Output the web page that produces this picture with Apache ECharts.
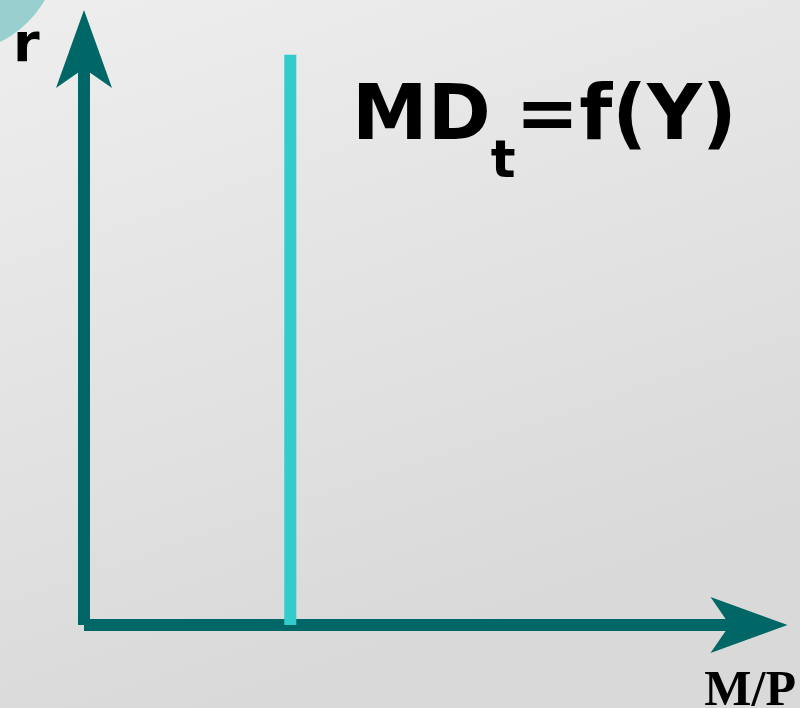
<!DOCTYPE html>
<html>
<head>
<meta charset="utf-8">
<script src="https://cdn.jsdelivr.net/npm/echarts@6/dist/echarts.min.js"></script>
<style>
  html, body { margin: 0; padding: 0; }
  #chart { width: 800px; height: 708px; }
</style>
</head>
<body>
<div id="chart"></div>
<script>
// axis ranges (no ticks shown, just the frame)
var xRange = [0, 100];
var yRange = [0, 100];
// vertical money demand line: MD_t = f(Y), independent of r
var mdLine = [[31, 0], [31, 99]];
var yName = 'r';
var xName = 'M/P';

var teal = '#006666';
var cyan = '#33CCCC';

var chart = echarts.init(document.getElementById('chart'));
chart.setOption({
    animation: false,
    backgroundColor: {
        type: 'linear', x: 0, y: 0, x2: 0.3, y2: 1,
        colorStops: [
            {offset: 0, color: '#EEEEEE'},
            {offset: 1, color: '#D9D9D9'}
        ]
    },
    grid: {
        left: 84,
        right: 50.5,
        top: 49,
        bottom: 83
    },
    xAxis: {
        type: 'value',
        min: xRange[0],
        max: xRange[1],
        axisLine: {
            show: true,
            symbol: ['none', 'arrow'],
            symbolSize: [42, 77],
            symbolOffset: [0, 38],
            lineStyle: {color: teal, width: 12, cap: 'butt'}
        },
        axisTick: {show: false},
        axisLabel: {show: false},
        splitLine: {show: false}
    },
    yAxis: {
        type: 'value',
        min: yRange[0],
        max: yRange[1],
        axisLine: {
            show: true,
            symbol: ['none', 'arrow'],
            symbolSize: [42, 78],
            symbolOffset: [0, 39],
            lineStyle: {color: teal, width: 12, cap: 'butt'}
        },
        axisTick: {show: false},
        axisLabel: {show: false},
        splitLine: {show: false}
    },
    series: [
        {
            name: 'MDt',
            type: 'line',
            data: mdLine,
            symbol: 'none',
            lineStyle: {color: cyan, width: 12, cap: 'butt'}
        }
    ],
    graphic: [
        {
            // corner decoration
            type: 'circle',
            shape: {cx: -47, cy: -53, r: 106},
            style: {fill: '#99CFCF'},
            silent: true
        },
        {
            type: 'text',
            left: 13,
            top: 20,
            style: {
                text: yName,
                font: 'bold 54px "DejaVu Sans"',
                fill: '#000'
            }
        },
        {
            type: 'text',
            right: 4,
            bottom: -9,
            style: {
                text: xName,
                font: 'bold 50px "Liberation Serif"',
                fill: '#000'
            }
        },
        {
            type: 'text',
            left: 352,
            top: 81,
            style: {
                text: '{a|MD}{b|t}{a|=f(Y)}',
                fill: '#000',
                rich: {
                    a: {font: 'bold 76px "DejaVu Sans"', fill: '#000', verticalAlign: 'top', lineHeight: 90},
                    b: {font: 'bold 52px "DejaVu Sans"', fill: '#000', verticalAlign: 'top', lineHeight: 90, padding: [56, 0, 0, 0]}
                }
            }
        }
    ]
});
</script>
</body>
</html>
